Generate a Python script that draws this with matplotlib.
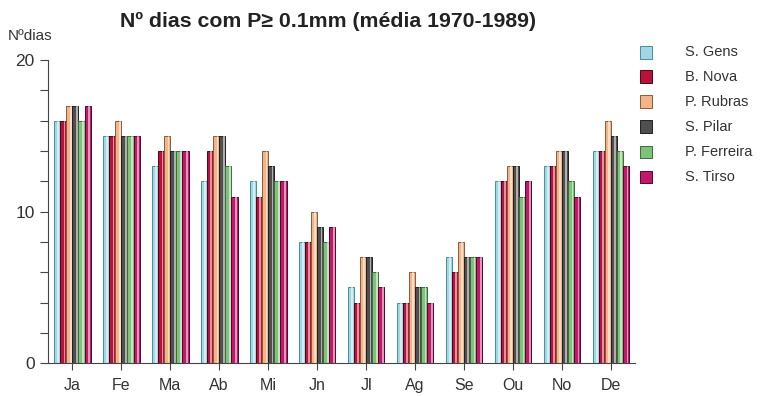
import matplotlib
matplotlib.use("Agg")
from matplotlib import pyplot as plt
from matplotlib.patches import Rectangle
import numpy as np

plt.rcParams['font.family'] = ['Liberation Sans', 'DejaVu Sans']

months = ["Ja", "Fe", "Ma", "Ab", "Mi", "Jn", "Jl", "Ag", "Se", "Ou", "No", "De"]
stations = ["S. Gens", "B. Nova", "P. Rubras", "S. Pilar", "P. Ferreira", "S. Tirso"]

s_gens = [16, 15, 13, 12, 12, 8, 5, 4, 7, 12, 13, 14]
b_nova = [16, 15, 14, 14, 11, 8, 4, 4, 6, 12, 13, 14]
p_rubras = [17, 16, 15, 15, 14, 10, 7, 6, 8, 13, 14, 16]
s_pilar = [17, 15, 14, 15, 13, 9, 7, 5, 7, 13, 14, 15]
p_ferreira = [16, 15, 14, 13, 12, 8, 6, 5, 7, 11, 12, 14]
s_tirso = [17, 15, 14, 11, 12, 9, 5, 4, 7, 12, 11, 13]

series = [s_gens, b_nova, p_rubras, s_pilar, p_ferreira, s_tirso]
colors = ["#9fd8e4", "#b8123a", "#f3b487", "#4f4f4f", "#7fc27a", "#c0186a"]
edges = ["#4a8f9c", "#4a0818", "#8a5a3a", "#202020", "#3b6e38", "#50082c"]

fig = plt.figure(figsize=(7.72, 3.96), dpi=100)
ax = fig.add_axes([0.062, 0.083, 0.761, 0.765])

x = np.arange(len(months))
w = 0.125
for i, vals in enumerate(series):
    pos = x + (i - 2.5) * w
    ax.bar(pos, vals, width=w, color=colors[i], edgecolor=edges[i], linewidth=0.7)
    # white highlight on right side of each bar
    ax.bar(pos + w * 0.22, vals, width=w * 0.3, color="white", alpha=0.55, linewidth=0)

ax.set_xlim(-0.5, 11.5)
ax.set_ylim(0, 20)
ax.set_xticks(x)
ax.set_xticklabels(months, fontsize=11.5, color="#333333")
ax.set_yticks([0, 10, 20])
ax.set_yticks(np.arange(0, 21, 2), minor=True)
ax.set_yticklabels(["0", "10", "20"], fontsize=12.5, color="#333333")
ax.tick_params(axis="y", which="both", length=6, width=0.8, color="#444444")
ax.tick_params(axis="x", length=5, width=0.8, color="#444444", pad=6)
for s in ["top", "right"]:
    ax.spines[s].set_visible(False)
ax.spines["left"].set_color("#444444")
ax.spines["bottom"].set_color("#444444")

fig.text(0.155, 0.945, "Nº dias com P\u2265 0.1mm (média 1970-1989)", fontsize=15.3,
         fontweight="bold", color="#222222", va="center")
fig.text(0.01, 0.91, "Nºdias", fontsize=11, color="#333333", va="center")

# legend
ly = [0.868, 0.806, 0.743, 0.68, 0.616, 0.553]
for i, name in enumerate(stations):
    fig.patches.append(Rectangle((0.829, ly[i] - 0.016), 0.016, 0.032, transform=fig.transFigure,
                                 facecolor=colors[i], edgecolor=edges[i], linewidth=0.7))
    fig.text(0.887, ly[i], name, fontsize=10.5, color="#333333", va="center")

fig.savefig("out.png", dpi=100)
